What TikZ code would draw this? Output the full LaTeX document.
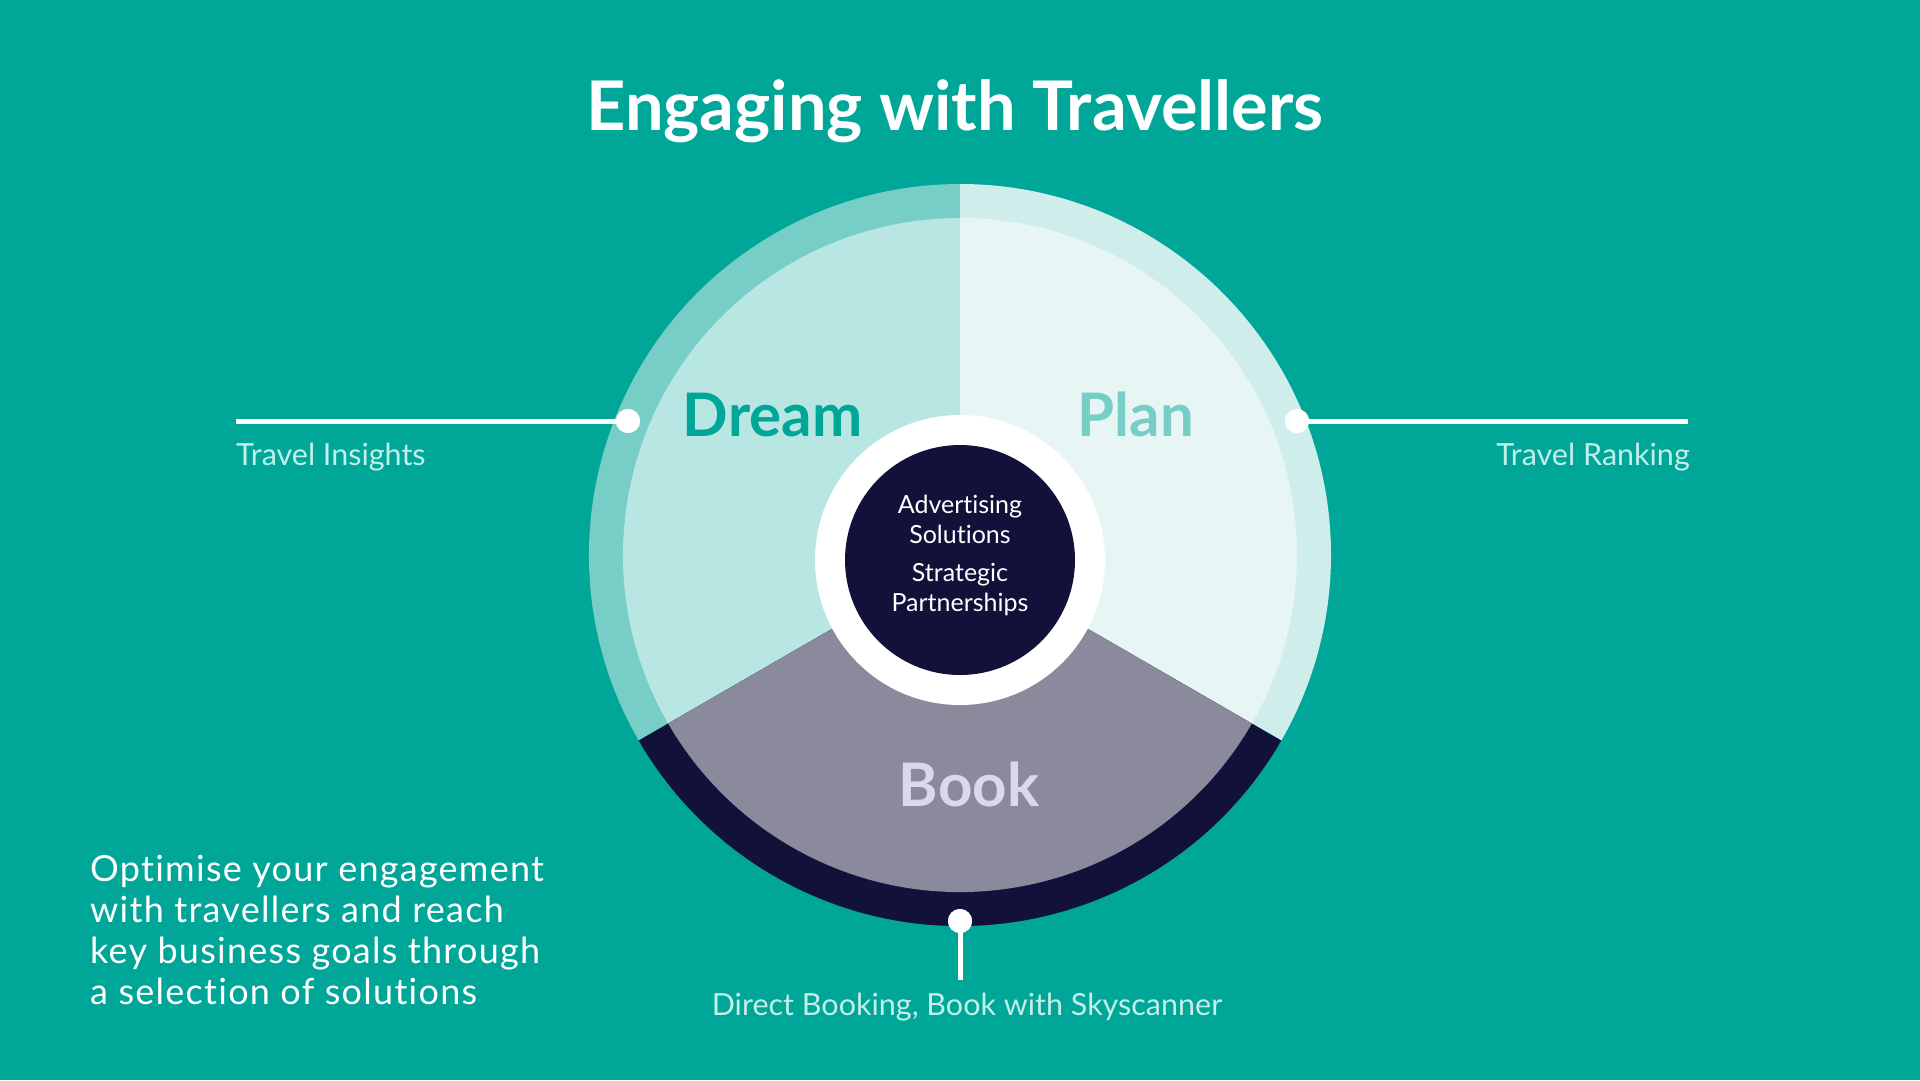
\documentclass[tikz,border=0pt]{standalone}
\usepackage{fontspec}
\setmainfont{Lato}[Ligatures=NoCommon]
\definecolor{bg}{HTML}{00A698}
\definecolor{dreamring}{HTML}{77CEC6}
\definecolor{dreamin}{HTML}{B8E6E3}
\definecolor{planring}{HTML}{CFEEEB}
\definecolor{planin}{HTML}{E7F6F5}
\definecolor{bookring}{HTML}{12113A}
\definecolor{bookin}{HTML}{8A8A9C}
\definecolor{booktxt}{HTML}{DCD8EC}
\definecolor{labeltxt}{HTML}{C2EFE9}
\begin{document}
\begin{tikzpicture}[x=1pt,y=-1pt,
  seg/.style={inner sep=0pt,font=\fontsize{60}{64}\selectfont\bfseries,anchor=base},
  lbl/.style={inner sep=0pt,text=labeltxt,font=\fontsize{30.5}{34}\selectfont},
  hubtxt/.style={inner sep=0pt,text=white,align=center,anchor=base,font=\fontsize{25}{30}\selectfont},
  dot/.style={circle,fill=white,inner sep=0pt,minimum size=24pt},
  lead/.style={draw=white,line width=5pt}]
\fill[bg] (0,0) rectangle (1920,1080);
\useasboundingbox (0,0) rectangle (1920,1080);
\coordinate (C) at (960,555);
% Dream
\fill[dreamring] (C) -- ++(-210:371) arc[start angle=-210,end angle=-90,radius=371] -- cycle;
\fill[dreamin] (C) -- ++(-210:337) arc[start angle=-210,end angle=-90,radius=337] -- cycle;
% Plan
\fill[planring] (C) -- ++(-90:371) arc[start angle=-90,end angle=30,radius=371] -- cycle;
\fill[planin] (C) -- ++(-90:337) arc[start angle=-90,end angle=30,radius=337] -- cycle;
% Book
\fill[bookring] (C) -- ++(30:371) arc[start angle=30,end angle=150,radius=371] -- cycle;
\fill[bookin] (C) -- ++(30:337) arc[start angle=30,end angle=150,radius=337] -- cycle;
% centre
\node[circle,fill=white,inner sep=0pt,minimum size=290pt] (hub) at (960,560) {};
\node[circle,fill=bookring,inner sep=0pt,minimum size=230pt] (core) at (hub) {};
\node[hubtxt] (adv) at (960,543.5) {Advertising\\Solutions};
\node[hubtxt] (strat) at (960,611.5) {Strategic\\Partnerships};
% title
\node[inner sep=0pt,text=white,anchor=base,font=\fontsize{68.5}{80}\selectfont\bfseries] (title) at (955,130) {Engaging with Travellers};
% segment labels
\node[seg,text=bg] (dream) at (772.5,436) {Dream};
\node[seg,text=dreamring] (plan) at (1136,436) {Plan};
\node[seg,text=booktxt] (book) at (969,806) {Book};
% leads
\node[dot] (d1) at (628,421) {};
\node[dot] (d2) at (1297,421) {};
\node[dot] (d3) at (960,921) {};
\coordinate (e1) at (236,421);
\coordinate (e2) at (1688,421);
\coordinate (e3) at (960,980);
\draw[lead] (e1) -- (d1.center);
\draw[lead] (d2.center) -- (e2);
\draw[lead] (d3.center) -- (e3);
\node[dot] at (d1) {};
\node[dot] at (d2) {};
\node[dot] at (d3) {};
\node[lbl,anchor=base west] (ti) at (236,465) {Travel Insights};
\node[lbl,anchor=base east] (tr) at (1690,465) {Travel Ranking};
\node[lbl,anchor=base] (db) at (967,1015) {Direct Booking, Book with Skyscanner};
% paragraph
\node[inner sep=0pt,text=white,align=left,anchor=base west,font=\fontsize{36}{40.7}\selectfont\addfontfeatures{LetterSpace=3.5}] (para) at (90,1004) {Optimise your engagement\\with travellers and reach\\key business goals through\\a selection of solutions};
\end{tikzpicture}
\end{document}
